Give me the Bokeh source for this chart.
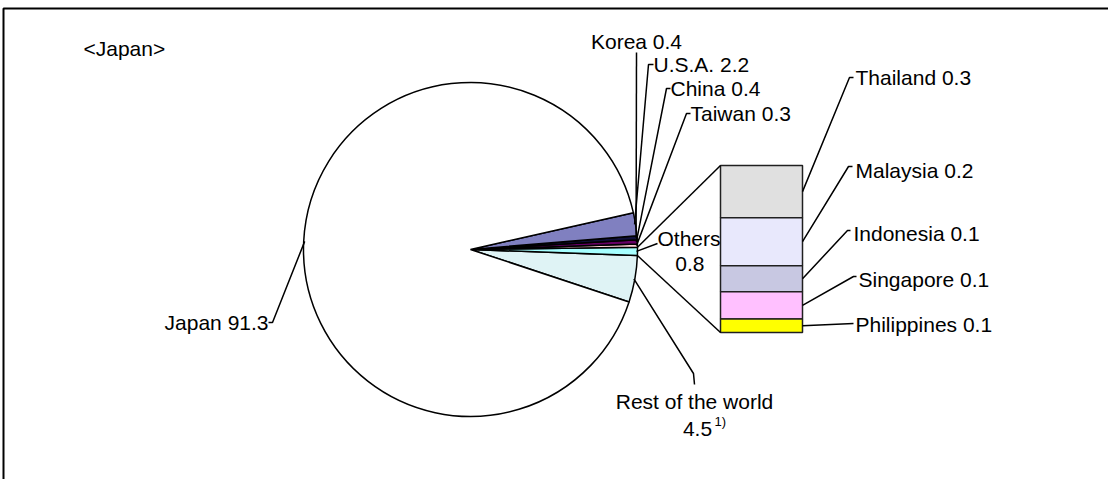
import math
import numpy as np
from bokeh.plotting import figure
from bokeh.models import Range1d, ColumnDataSource
from bokeh.core.properties import value
from bokeh.embed import file_html
from bokeh.resources import INLINE

# ---------------- data ----------------
pie_names = ["Rest of the world", "Others", "Taiwan", "China", "Korea", "U.S.A.", "Japan"]
pie_values = [4.5, 0.8, 0.3, 0.4, 0.4, 2.2, 91.3]
pie_colors = ["#dff3f5", "#a6ffff", "#ffd0d8", "#660066", "#10103a", "#8080c0", "#ffffff"]

bar_names = ["Thailand", "Malaysia", "Indonesia", "Singapore", "Philippines"]
bar_values = [0.25, 0.23, 0.125, 0.13, 0.065]
bar_labels = ["Thailand 0.3", "Malaysia 0.2", "Indonesia  0.1", "Singapore 0.1", "Philippines 0.1"]
bar_colors = ["#e0e0e0", "#e8e8fc", "#c8c8e2", "#ffc0ff", "#ffff00"]

title_text = "<Japan>"

# ---------------- layout ----------------
W, H = 1108, 479
FONT = value("Liberation Sans")
FS = "21px"


def Y(py):
    return H - py


CX, CY, R = 470, Y(249), 167
START_DEG = -18.3
BAR_L, BAR_R, BAR_TOP, BAR_BOT = 720, 802, Y(165), Y(332)

p = figure(width=W, height=H, x_range=Range1d(0, W), y_range=Range1d(0, H),
           output_backend="svg", toolbar_location=None, min_border=0)
p.axis.visible = False
p.grid.visible = False
p.outline_line_color = None
p.background_fill_color = "white"
p.border_fill_color = "white"

# frame
p.line([3, 3, W + 10], [-10, Y(8), Y(8)], line_color="black", line_width=2)

# ---------------- pie ----------------
total = sum(pie_values)
cum = np.concatenate([[0], np.cumsum(pie_values)])
start = math.radians(START_DEG) + cum[:-1] / total * 2 * math.pi
end = math.radians(START_DEG) + cum[1:] / total * 2 * math.pi
src = ColumnDataSource(dict(start=start, end=end, color=pie_colors, name=pie_names))
p.wedge(x=CX, y=CY, radius=R, start_angle="start", end_angle="end",
        fill_color="color", line_color="black", line_width=1.5, source=src)


def edge(a, rr=R):
    return CX + rr * math.cos(a), CY + rr * math.sin(a)


mid = {n: (s + e) / 2 for n, s, e in zip(pie_names, start, end)}
ang_s = dict(zip(pie_names, start))
ang_e = dict(zip(pie_names, end))

# label placements (pixel coords): leader path end points, text pos, align
pie_label_layout = {
    "Korea": ([(636, 52)], (636, 41), "center", "Korea 0.4"),
    "U.S.A.": ([(648, 64), (653, 64)], (653, 64), "left", "U.S.A. 2.2"),
    "China": ([(666, 88), (670, 88)], (670, 88), "left", "China  0.4"),
    "Taiwan": ([(686, 113), (690, 113)], (690, 113), "left", "Taiwan 0.3"),
    "Others": ([(657, 243)], (657, 238), "left", "Others"),
    "Japan": ([(272, 322), (268, 322)], (268, 322), "right", "Japan 91.3"),
    "Rest of the world": ([(693, 373), (694, 384)], (694, 401), "center", "Rest of the world"),
}

xs, ys = [], []
tx, ty, tt, ta = [], [], [], []
for n in pie_names:
    pts, (lx, ly), al, txt = pie_label_layout[n]
    ex, ey = edge(mid[n], R - 1)
    xs.append([ex] + [q[0] for q in pts])
    ys.append([ey] + [Y(q[1]) for q in pts])
    tx.append(lx); ty.append(Y(ly)); tt.append(txt); ta.append(al)

tx += [704, 697]; ty += [Y(263), Y(428)]; tt += ["0.8", "4.5"]; ta += ["right", "center"]

# connectors between pie "Others" slice and bar
ox1, oy1 = edge(ang_e["Others"])
ox0, oy0 = edge(ang_s["Others"])
xs += [[ox1, BAR_L], [ox0, BAR_L]]
ys += [[oy1, BAR_TOP], [oy0, BAR_BOT]]

# ---------------- bar ----------------
scale = (BAR_TOP - BAR_BOT) / sum(bar_values)
bcum = np.concatenate([[0], np.cumsum(bar_values)])
tops = BAR_TOP - bcum[:-1] * scale
bots = BAR_TOP - bcum[1:] * scale
bsrc = ColumnDataSource(dict(top=tops, bottom=bots, color=bar_colors, name=bar_names))
p.quad(left=BAR_L, right=BAR_R, top="top", bottom="bottom", fill_color="color",
       line_color="#202020", line_width=1.5, source=bsrc)

bar_label_layout = [
    ([(849, 77), (853, 77)], (855, 77)),
    ([(848, 166), (852, 166)], (855, 170)),
    ([(847, 230), (850, 230)], (853, 233)),
    ([(853, 276), (856, 276)], (858, 279)),
    ([(853, 323)], (855, 324)),
]
for (pts, (lx, ly)), t, b, lab in zip(bar_label_layout, tops, bots, bar_labels):
    my = (t + b) / 2
    xs.append([BAR_R] + [q[0] for q in pts])
    ys.append([my] + [Y(q[1]) for q in pts])
    tx.append(lx); ty.append(Y(ly)); tt.append(lab); ta.append("left")

p.multi_line(xs, ys, line_color="black", line_width=1.5)

tsrc = ColumnDataSource(dict(x=tx, y=ty, text=tt, align=ta))
p.text(x="x", y="y", text="text", text_align="align", text_baseline="middle",
       text_font=FONT, text_font_size=FS, text_color="black", source=tsrc)

# superscript and title
p.text(x=[714], y=[Y(421)], text=["1)"], text_align="left", text_baseline="middle",
       text_font=FONT, text_font_size="13px", text_color="black")
p.text(x=[83], y=[Y(48)], text=[title_text], text_align="left", text_baseline="middle",
       text_font=FONT, text_font_size=FS, text_color="black")

open("out.html", "w").write(file_html(p, INLINE))
